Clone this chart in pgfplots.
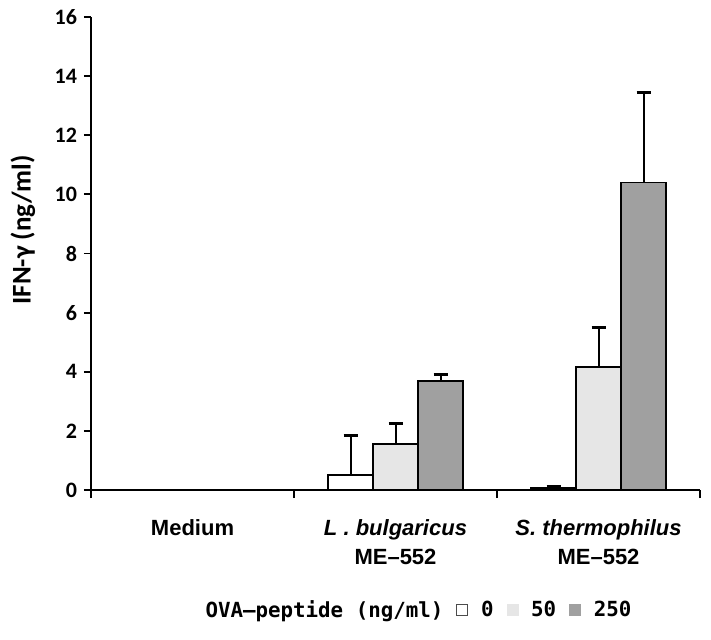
\documentclass[border=0pt]{standalone}
\usepackage{fontspec}
\setmainfont{Carlito}
\newfontfamily\arial{Liberation Sans}
\newfontfamily\gmono{DejaVu Sans Mono}
\usepackage{pgfplots}
\pgfplotsset{compat=1.18}
\definecolor{cw}{HTML}{FFFFFF}
\definecolor{cl}{HTML}{E6E6E6}
\definecolor{cd}{HTML}{A0A0A0}
\begin{document}
\begin{tikzpicture}[x=1pt,y=1pt]
\begin{axis}[
  scale only axis,
  width=304.5pt, height=236.5pt,
  ymin=0, ymax=16, ytick={0,2,...,16},
  xmin=0.5, xmax=3.5,
  xtick={1,2,3},
  xticklabels={Medium, {\itshape L . bulgaricus}\\ME–552, {\itshape S. thermophilus}\\ME–552},
  xticklabel style={font=\arial\bfseries\fontsize{11}{14.5}\selectfont, align=center, yshift=-7.5pt},
  major x tick style={draw=none},
  minor xtick={0.5,1.5,2.5,3.5},
  minor tick length=4pt,
  major tick length=3.5pt,
  tick align=outside,
  axis lines*=left,
  axis line style={line width=0.9pt},
  every tick/.style={black, line width=0.9pt},
  yticklabel style={font=\bfseries\fontsize{11}{12}\selectfont},
  /pgf/number format/assume math mode=true,
  ylabel={\bfseries IFN-γ (ng/ml)},
  ylabel style={font=\fontsize{13.5}{15}\selectfont, anchor=center, at={(axis description cs:-0.112,0.55)}},
  ybar=0pt, bar width=22.5pt,
  legend style={at={(axis description cs:0.527,-0.254)}, anchor=center, draw=none,
    legend columns=-1, font=\gmono\bfseries\fontsize{10.4}{12}\selectfont,
    nodes={inner xsep=0pt},
    /tikz/every even column/.append style={column sep=6.5pt},
    /tikz/every odd column/.append style={column sep=6.5pt}},
  legend image code/.code={\draw[#1, line width=0.3pt] (0pt,-2.75pt) rectangle (5.5pt,2.75pt);},
  error bars/error bar style={line width=1pt, black},
  error bars/error mark options={rotate=90, mark size=3.5pt, line width=1.3pt, black},
]
\addlegendimage{empty legend}
\addlegendentry{OVA–peptide (ng/ml)}
\addplot[fill=cw, draw=black, line width=0.9pt,
  legend image post style={draw=black!70, line width=0.4pt},
  error bars/.cd, y dir=plus, y explicit]
  coordinates {(2,0.5) +- (0,1.35) (3,0.08) +- (0,0.06)};
\addlegendentry{0}
\addplot[fill=cl, draw=black, line width=0.9pt,
  legend image post style={draw=cl},
  error bars/.cd, y dir=plus, y explicit]
  coordinates {(2,1.55) +- (0,0.7) (3,4.15) +- (0,1.35)};
\addlegendentry{50}
\addplot[fill=cd, draw=black, line width=0.9pt,
  legend image post style={draw=cd},
  error bars/.cd, y dir=plus, y explicit]
  coordinates {(2,3.7) +- (0,0.2) (3,10.4) +- (0,3.05)};
\addlegendentry{250}
\end{axis}
\path (-45.5pt,-74.5pt) rectangle (310pt,245pt);
\end{tikzpicture}
\end{document}
